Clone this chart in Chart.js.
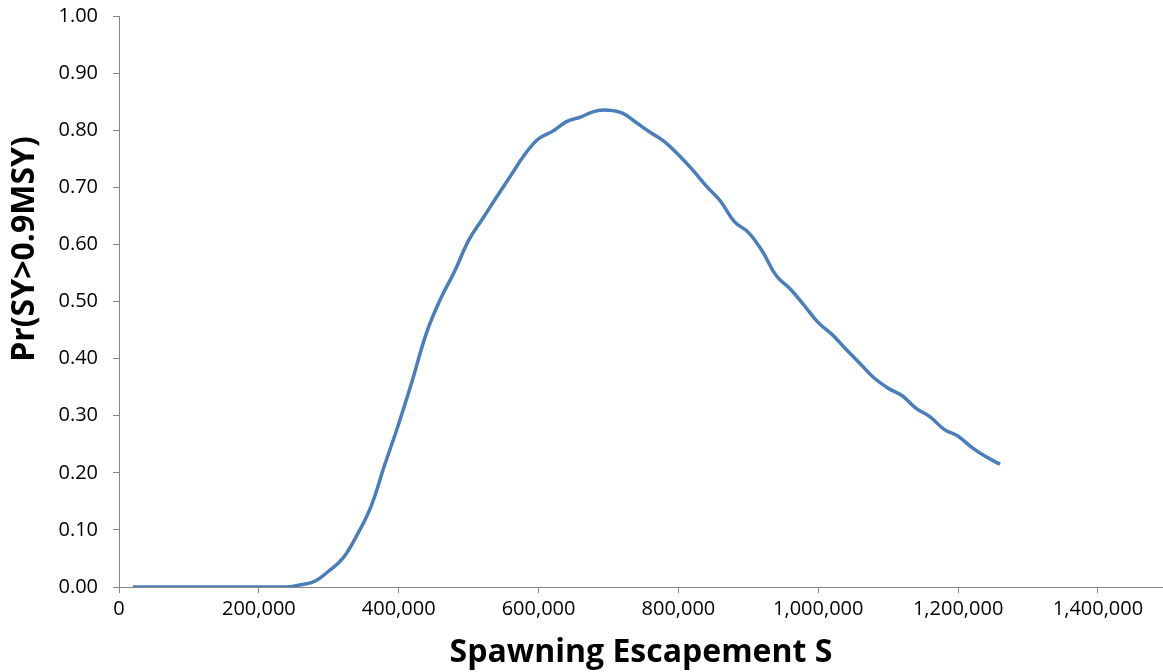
<!DOCTYPE html>
<html>
<head>
<meta charset="utf-8">
<script src="https://cdn.jsdelivr.net/npm/chart.js@4.4.1/dist/chart.umd.min.js"></script>
<style>
  html, body { margin: 0; padding: 0; background: #ffffff; }
  #wrap { width: 1163px; height: 672px; position: relative; }
</style>
</head>
<body>
<div id="wrap"><canvas id="chart" width="1163" height="672"></canvas></div>
<script>
// Spawning escapement S (fish)
const escapement = [
  20000, 40000, 60000, 80000, 100000, 120000, 140000, 160000, 180000, 200000,
  220000, 240000, 260000, 280000, 300000, 320000, 340000, 360000, 380000, 400000,
  420000, 440000, 460000, 480000, 500000, 520000, 540000, 560000, 580000, 600000,
  620000, 640000, 660000, 680000, 700000, 720000, 740000, 760000, 780000, 800000,
  820000, 840000, 860000, 880000, 900000, 920000, 940000, 960000, 980000, 1000000,
  1020000, 1040000, 1060000, 1080000, 1100000, 1120000, 1140000, 1160000, 1180000, 1200000,
  1220000, 1240000, 1260000
];

// Probability that sustained yield exceeds 90% of MSY
const probability = [
  0.000, 0.000, 0.000, 0.000, 0.000, 0.000, 0.000, 0.000, 0.000, 0.000,
  0.000, 0.000, 0.004, 0.010, 0.028, 0.050, 0.090, 0.140, 0.214, 0.286,
  0.364, 0.446, 0.505, 0.553, 0.607, 0.645, 0.683, 0.720, 0.757, 0.785,
  0.798, 0.815, 0.823, 0.833, 0.835, 0.830, 0.813, 0.796, 0.780, 0.757,
  0.731, 0.702, 0.676, 0.640, 0.621, 0.588, 0.545, 0.522, 0.493, 0.463,
  0.442, 0.416, 0.391, 0.366, 0.348, 0.335, 0.313, 0.298, 0.276, 0.264,
  0.244, 0.228, 0.215
];

// Tick positions on each axis
const xTicks = [0, 200000, 400000, 600000, 800000, 1000000, 1200000, 1400000];
const yTicks = [0, 0.1, 0.2, 0.3, 0.4, 0.5, 0.6, 0.7, 0.8, 0.9, 1.0];

const xTitle = 'Spawning Escapement S';
const yTitle = 'Pr(SY>0.9MSY)';

const axisGrey = '#868686';
const lineBlue = '#4A7EBB';

// Rotated y-axis title, placed beside the upper part of the axis
const yTitlePlugin = {
  id: 'yTitleText',
  afterDraw(chart) {
    const ctx = chart.ctx;
    ctx.save();
    ctx.translate(25, 249);
    ctx.rotate(-Math.PI / 2);
    ctx.font = 'bold 32px "Open Sans"';
    ctx.fillStyle = '#000000';
    ctx.textAlign = 'center';
    ctx.textBaseline = 'middle';
    ctx.fillText(yTitle, 0, 0);
    ctx.restore();
  }
};

const points = escapement.map((s, i) => ({ x: s, y: probability[i] }));

new Chart(document.getElementById('chart'), {
  type: 'line',
  data: {
    datasets: [{
      data: points,
      borderColor: lineBlue,
      borderWidth: 3.5,
      pointRadius: 0,
      pointHoverRadius: 0,
      fill: false,
      tension: 0.4
    }]
  },
  options: {
    responsive: false,
    animation: false,
    events: [],
    layout: { padding: { top: 16, right: 0, left: 0, bottom: 0 } },
    plugins: {
      legend: { display: false },
      tooltip: { enabled: false }
    },
    scales: {
      x: {
        type: 'linear',
        min: 0,
        max: 1493000,
        afterBuildTicks(scale) {
          scale.ticks = xTicks.map(v => ({ value: v }));
        },
        afterFit(scale) {
          scale.height = 85;
          scale.paddingLeft = 0;
          scale.paddingRight = 0;
        },
        ticks: {
          autoSkip: false,
          maxRotation: 0,
          color: '#000000',
          padding: 4,
          font: { family: '"Open Sans"', size: 20 },
          callback: v => Number(v).toLocaleString('en-US')
        },
        grid: {
          display: true,
          drawOnChartArea: false,
          drawTicks: true,
          tickLength: 6,
          color: axisGrey
        },
        border: { display: true, color: axisGrey, width: 1 },
        title: {
          display: true,
          text: xTitle,
          color: '#000000',
          padding: { top: 0, bottom: 0 },
          font: { family: '"Open Sans"', size: 32, weight: 'bold' }
        }
      },
      y: {
        min: 0,
        max: 1,
        afterBuildTicks(scale) {
          scale.ticks = yTicks.map(v => ({ value: v }));
        },
        afterFit(scale) {
          scale.width = 119;
          scale.paddingTop = 0;
          scale.paddingBottom = 0;
        },
        ticks: {
          color: '#000000',
          padding: 15,
          font: { family: '"Open Sans"', size: 20 },
          callback: v => Number(v).toFixed(2)
        },
        grid: {
          display: true,
          drawOnChartArea: false,
          drawTicks: true,
          tickLength: 6,
          color: axisGrey
        },
        border: { display: true, color: axisGrey, width: 1 }
      }
    }
  },
  plugins: [yTitlePlugin]
});
</script>
</body>
</html>
